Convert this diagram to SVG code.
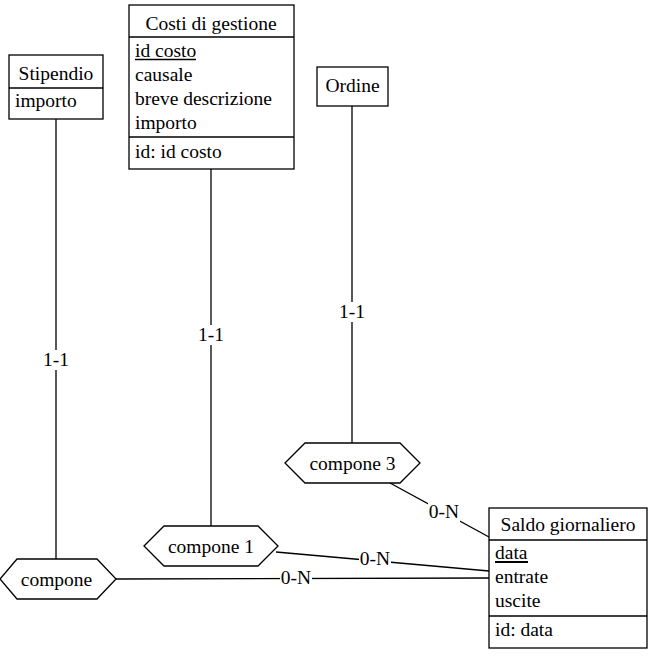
<svg xmlns="http://www.w3.org/2000/svg" width="652" height="656" viewBox="0 0 652 656">
<style>
  .box{fill:#fff;stroke:#000;stroke-width:1.3}
  .ln{stroke:#000;stroke-width:1.3;fill:none}
  text{font-family:"Liberation Serif","Times New Roman",serif;font-size:19.5px;fill:#000}
  .c{text-anchor:middle}
  .bg{fill:#fff}
</style>
<rect width="652" height="656" fill="#fff"/>
<g id="connectors">
  <line class="ln" x1="56" y1="119" x2="56" y2="559"/>
  <line class="ln" x1="211" y1="169" x2="211" y2="526"/>
  <line class="ln" x1="352" y1="106" x2="352" y2="443"/>
  <line class="ln" x1="390" y1="483" x2="489" y2="537"/>
  <line class="ln" x1="276" y1="552" x2="489" y2="571"/>
  <line class="ln" x1="116" y1="579" x2="489" y2="578"/>
  <rect class="bg" x="42" y="350" width="28" height="20"/>
  <text class="c" x="56" y="366">1-1</text>
  <rect class="bg" x="197" y="325" width="28" height="20"/>
  <text class="c" x="211" y="341">1-1</text>
  <rect class="bg" x="338" y="302" width="28" height="20"/>
  <text class="c" x="352" y="318">1-1</text>
  <rect class="bg" x="428" y="503" width="32" height="19"/>
  <text class="c" x="444" y="518">0-N</text>
  <rect class="bg" x="359" y="551" width="32" height="18"/>
  <text class="c" x="375" y="565">0-N</text>
  <rect class="bg" x="280" y="570" width="32" height="17"/>
  <text class="c" x="296" y="584">0-N</text>
</g>
<g id="Stipendio">
  <rect class="box" x="9" y="55" width="94" height="64"/>
  <line class="ln" x1="9" y1="88" x2="103" y2="88"/>
  <text class="c" x="56" y="80">Stipendio</text>
  <text x="15" y="107">importo</text>
</g>
<g id="Costi_di_gestione">
  <rect class="box" x="129" y="5" width="165" height="164"/>
  <line class="ln" x1="129" y1="37" x2="294" y2="37"/>
  <line class="ln" x1="129" y1="137" x2="294" y2="137"/>
  <text class="c" x="211" y="30">Costi di gestione</text>
  <text x="135" y="57">id costo</text>
  <line class="ln" x1="135" y1="59.5" x2="196" y2="59.5"/>
  <text x="135" y="81">causale</text>
  <text x="135" y="105">breve descrizione</text>
  <text x="135" y="129">importo</text>
  <text x="135" y="158">id: id costo</text>
</g>
<g id="Ordine">
  <rect class="box" x="317" y="67" width="71" height="39"/>
  <text class="c" x="352.5" y="92">Ordine</text>
</g>
<g id="Saldo_giornaliero">
  <rect class="box" x="489" y="508" width="158" height="140"/>
  <line class="ln" x1="489" y1="540" x2="647" y2="540"/>
  <line class="ln" x1="489" y1="616" x2="647" y2="616"/>
  <text class="c" x="568" y="531">Saldo giornaliero</text>
  <text x="495" y="559">data</text>
  <line class="ln" x1="495" y1="562" x2="528" y2="562" style="stroke-width:1.8"/>
  <text x="495" y="583">entrate</text>
  <text x="495" y="607">uscite</text>
  <text x="495" y="636">id: data</text>
</g>
<g id="compone_3">
  <polygon class="box" points="285,463 305,443 400,443 420,463 400,483 305,483"/>
  <text class="c" x="352.5" y="470">compone 3</text>
</g>
<g id="compone_1">
  <polygon class="box" points="144,546 164,526 258,526 278,546 258,566 164,566"/>
  <text class="c" x="211" y="553">compone 1</text>
</g>
<g id="compone">
  <polygon class="box" points="0,579 17,559 97,559 116,579 97,599 17,599"/>
  <text class="c" x="56.5" y="586">compone</text>
</g>
</svg>
